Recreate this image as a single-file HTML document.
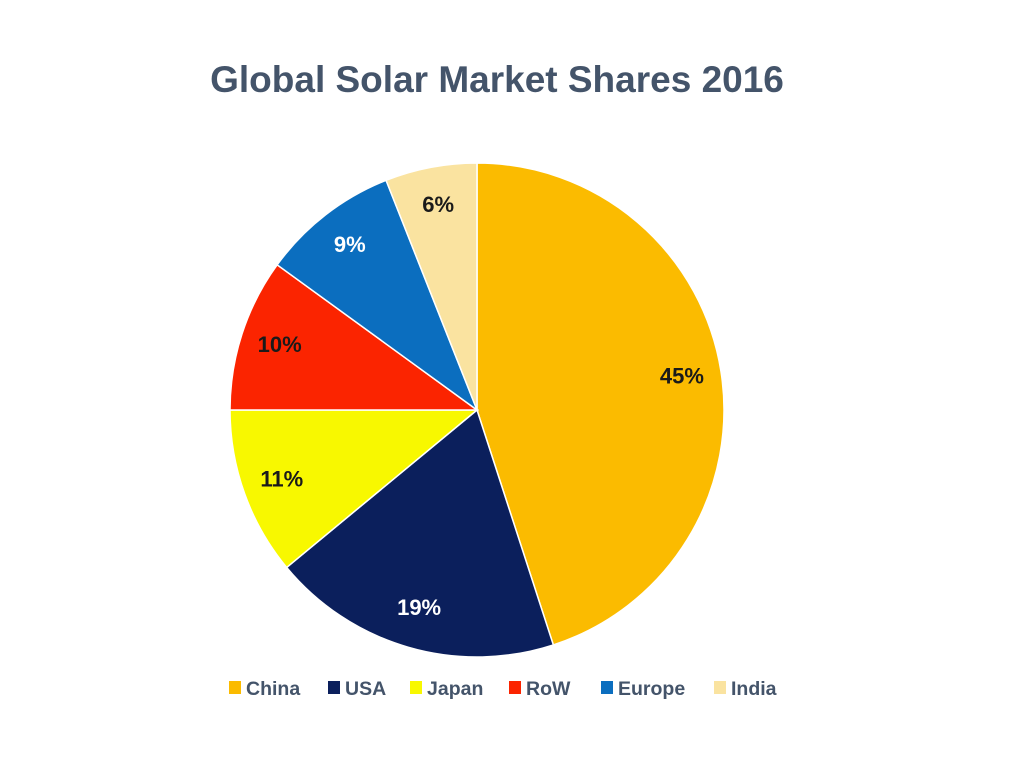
<!DOCTYPE html>
<html><head><meta charset="utf-8"><style>
body{margin:0;background:#fff;width:1020px;height:765px;overflow:hidden;font-family:"Liberation Sans",sans-serif}
</style></head><body>
<svg width="1020" height="765">
<text x="497" y="92" text-anchor="middle" font-size="37" font-weight="bold" fill="#44546a">Global Solar Market Shares 2016</text>
<g id="slices"></g><g id="labels"></g><g id="legend"></g>
</svg>
<script>
const categories=["China","USA","Japan","RoW","Europe","India"];
const values=[45,19,11,10,9,6];
const colors=["#fbbb00","#0b1f5c","#f8f800","#fb2400","#0b6ebf","#fae3a0"];
const labelColors=["#1a1a1a","#fff","#1a1a1a","#1a1a1a","#fff","#1a1a1a"];
const NS="http://www.w3.org/2000/svg";
const cx=477,cy=410,r=247;
const total=values.reduce((a,b)=>a+b,0);
function pt(a,rr){return [cx+rr*Math.sin(a),cy-rr*Math.cos(a)];}
let acc=0;
const sg=document.getElementById('slices'),lg=document.getElementById('labels'),leg=document.getElementById('legend');
values.forEach((v,i)=>{
 const a0=acc/total*2*Math.PI;acc+=v;const a1=acc/total*2*Math.PI;
 const p0=pt(a0,r),p1=pt(a1,r);
 const p=document.createElementNS(NS,'path');
 p.setAttribute('d',`M${cx},${cy}L${p0[0]},${p0[1]}A${r},${r} 0 ${a1-a0>Math.PI?1:0} 1 ${p1[0]},${p1[1]}Z`);
 p.setAttribute('fill',colors[i]);p.setAttribute('stroke','#fff');p.setAttribute('stroke-width','1.5');
 
 
 sg.appendChild(p);
 const m=(a0+a1)/2,lp=pt(m,r*0.84);
 const t=document.createElementNS(NS,'text');
 t.setAttribute('x',lp[0]);t.setAttribute('y',lp[1]+6);t.setAttribute('text-anchor','middle');
 t.setAttribute('font-size','22');t.setAttribute('font-weight','bold');t.setAttribute('fill',labelColors[i]);
 t.textContent=v+'%';
 
 
 lg.appendChild(t);
});
const legX=[229,328,410,509,601,714];
categories.forEach((c,i)=>{
 const g=document.createElementNS(NS,'g');
 
 
 const s=document.createElementNS(NS,'rect');
 s.setAttribute('x',legX[i]);s.setAttribute('y',681);s.setAttribute('width',12);s.setAttribute('height',13);s.setAttribute('fill',colors[i]);
 const t=document.createElementNS(NS,'text');
 t.setAttribute('x',legX[i]+17);t.setAttribute('y',695);t.setAttribute('font-size','19.5');t.setAttribute('font-weight','bold');t.setAttribute('fill','#44546a');
 t.textContent=c;
 g.appendChild(s);g.appendChild(t);leg.appendChild(g);
});
</script>
</body></html>
